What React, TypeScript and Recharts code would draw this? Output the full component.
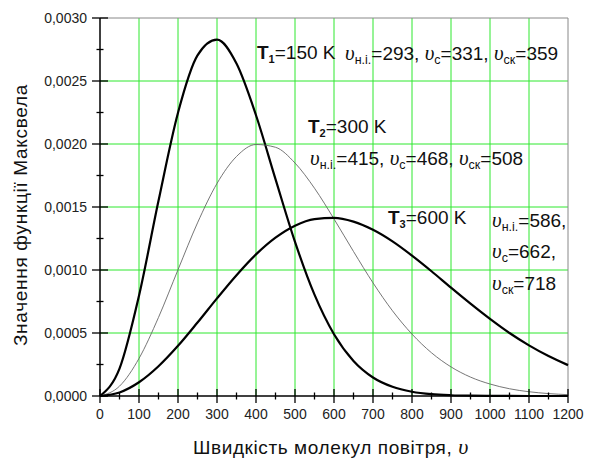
import { CartesianGrid, Line, LineChart, ReferenceLine, XAxis, YAxis } from "recharts";

// швидкість, м/с
const SPEEDS = [
  0, 50, 100, 150, 200, 250, 300, 350, 400, 450, 500, 550, 600, 650, 700, 750, 800, 850, 900, 950, 1000, 1050,
  1100, 1150, 1200,
];

// значення функції Максвела
const F_T1 = [
  0, 0.000217, 0.000796, 0.001549, 0.002248, 0.002703, 0.002828, 0.002638, 0.002228, 0.001721, 0.001223, 0.000804,
  0.00049, 0.000278, 0.000147, 0.000073, 0.000034, 0.0000145, 0.000006, 0.0000022, 0.0000008, 0.0000003, 0.0000001,
  0, 0,
];
const F_T2 = [
  0, 0.000078, 0.000298, 0.000624, 0.001002, 0.001374, 0.001687, 0.001901, 0.001996, 0.001974, 0.001849, 0.001649,
  0.001405, 0.001147, 0.000898, 0.000676, 0.000491, 0.000343, 0.000231, 0.00015, 0.000095, 0.0000575, 0.0000338,
  0.0000192, 0.0000106,
];
const F_T3 = [
  0, 0.000028, 0.000109, 0.000236, 0.000398, 0.000583, 0.000775, 0.000959, 0.001124, 0.001257, 0.001352, 0.001404,
  0.001414, 0.001384, 0.001319, 0.001227, 0.001114, 0.00099, 0.00086, 0.000733, 0.000612, 0.0005, 0.000402,
  0.000317, 0.000245,
];

const TEMPS = [150, 300, 600];
const V_PROB = [293, 415, 586];
const V_MEAN = [331, 468, 662];
const V_RMS = [359, 508, 718];

const X_TICKS = [
  0, 50, 100, 150, 200, 250, 300, 350, 400, 450, 500, 550, 600, 650, 700, 750, 800, 850, 900, 950, 1000, 1050,
  1100, 1150, 1200,
];
const X_GRID = [100, 200, 300, 400, 500, 600, 700, 800, 900, 1000, 1100];
const Y_TICKS = [
  0, 0.00025, 0.0005, 0.00075, 0.001, 0.00125, 0.0015, 0.00175, 0.002, 0.00225, 0.0025, 0.00275, 0.003,
];
const Y_GRID = [0.0005, 0.001, 0.0015, 0.002, 0.0025];

const data = SPEEDS.map((v, i) => ({ v, t1: F_T1[i], t2: F_T2[i], t3: F_T3[i] }));

const SANS = "'Liberation Sans', Arial, sans-serif";
const SERIF = "'Liberation Serif', 'Times New Roman', serif";
const GREEN = "#2ee82e";

function XTick(props: any) {
  const { x, y, payload } = props;
  const major = Math.round(payload.value / 50) % 2 === 0;
  const h = major ? 7 : 3.5;
  return (
    <g>
      <line x1={x} x2={x} y1={y - h} y2={y + h} stroke="#000" strokeWidth={1.3} />
      {major && (
        <text x={x} y={y + 23} textAnchor="middle" fontFamily={SANS} fontSize={14} fill="#222">
          {payload.value}
        </text>
      )}
    </g>
  );
}

function YTick(props: any) {
  const { x, y, payload } = props;
  const major = Math.round(payload.value / 0.00025) % 2 === 0;
  const w = major ? 8 : 3.5;
  return (
    <g>
      <line x1={x - w} x2={x + w} y1={y} y2={y} stroke="#000" strokeWidth={1.3} />
      {major && (
        <text x={x - 13} y={y + 5} textAnchor="end" fontFamily={SANS} fontSize={14} fill="#222">
          {payload.value.toFixed(4).replace(".", ",")}
        </text>
      )}
    </g>
  );
}

function U({ sub }: { sub: string }) {
  return (
    <>
      <span style={{ fontFamily: SERIF, fontStyle: "italic", fontSize: 21 }}>υ</span>
      <sub style={{ fontSize: 12.5, verticalAlign: "-4px" }}>{sub}</sub>
    </>
  );
}

function Label({ left, top, children }: { left: number; top: number; children: any }) {
  return (
    <div
      style={{
        position: "absolute",
        left,
        top,
        fontFamily: SANS,
        fontSize: 19,
        lineHeight: "18px",
        color: "#111",
        whiteSpace: "nowrap",
      }}
    >
      {children}
    </div>
  );
}

function TLabel({ n, t }: { n: number; t: number }) {
  return (
    <>
      <b>T</b>
      <sub style={{ fontSize: 11, fontWeight: "bold", verticalAlign: "-4px" }}>{n}</sub>={t} K
    </>
  );
}

export default function App() {
  return (
    <div style={{ position: "absolute", left: 0, top: 0, width: 595, height: 461, background: "#fff", overflow: "hidden" }}>
      <LineChart width={595} height={461} data={data} margin={{ top: 18, right: 27, left: 0, bottom: 0 }}>
        <CartesianGrid
          stroke={GREEN}
          strokeWidth={1}
          horizontalValues={Y_GRID}
          verticalValues={X_GRID}
        />
        <ReferenceLine y={0.003} stroke="#888" strokeWidth={1} />
        <ReferenceLine x={1200} stroke="#888" strokeWidth={1} />
        <XAxis
          dataKey="v"
          type="number"
          domain={[0, 1200]}
          ticks={X_TICKS}
          interval={0}
          height={65}
          tickSize={0}
          tickMargin={0}
          tick={<XTick />}
          axisLine={{ stroke: "#000", strokeWidth: 1.5 }}
          tickLine={false}
        />
        <YAxis
          type="number"
          domain={[0, 0.003]}
          ticks={Y_TICKS}
          interval={0}
          width={100}
          tickSize={0}
          tickMargin={0}
          tick={<YTick />}
          axisLine={{ stroke: "#000", strokeWidth: 1.5 }}
          tickLine={false}
        />
        <Line dataKey="t1" type="monotone" stroke="#000" strokeWidth={2.2} dot={false} isAnimationActive={false} />
        <Line dataKey="t2" type="monotone" stroke="#666" strokeWidth={0.9} dot={false} isAnimationActive={false} />
        <Line dataKey="t3" type="monotone" stroke="#000" strokeWidth={2.2} dot={false} isAnimationActive={false} />
      </LineChart>

      <Label left={257} top={44}>
        <TLabel n={1} t={TEMPS[0]} />
      </Label>
      <Label left={345} top={44}>
        <U sub="н.і." />={V_PROB[0]}, <U sub="с" />={V_MEAN[0]}, <U sub="ск" />={V_RMS[0]}
      </Label>
      <Label left={308} top={118}>
        <TLabel n={2} t={TEMPS[1]} />
      </Label>
      <Label left={310} top={149}>
        <U sub="н.і." />={V_PROB[1]}, <U sub="с" />={V_MEAN[1]}, <U sub="ск" />={V_RMS[1]}
      </Label>
      <Label left={388} top={209}>
        <TLabel n={3} t={TEMPS[2]} />
      </Label>
      <Label left={492} top={211}>
        <U sub="н.і." />={V_PROB[2]},
      </Label>
      <Label left={492} top={242}>
        <U sub="с" />={V_MEAN[2]},
      </Label>
      <Label left={492} top={274}>
        <U sub="ск" />={V_RMS[2]}
      </Label>

      <div
        style={{
          position: "absolute",
          left: 193,
          top: 437,
          fontFamily: SANS,
          fontSize: 19,
          letterSpacing: 0.6,
          lineHeight: "20px",
          color: "#111",
          whiteSpace: "nowrap",
        }}
      >
        Швидкість молекул повітря, <span style={{ fontFamily: SERIF, fontStyle: "italic", fontSize: 22, lineHeight: "20px" }}>υ</span>
      </div>
      <div
        style={{
          position: "absolute",
          left: 21,
          top: 215,
          transform: "translate(-50%, -50%) rotate(-90deg)",
          fontFamily: SANS,
          fontSize: 19,
          letterSpacing: 0.7,
          lineHeight: "22px",
          color: "#111",
          whiteSpace: "nowrap",
        }}
      >
        Значення функції Максвела
      </div>
    </div>
  );
}
